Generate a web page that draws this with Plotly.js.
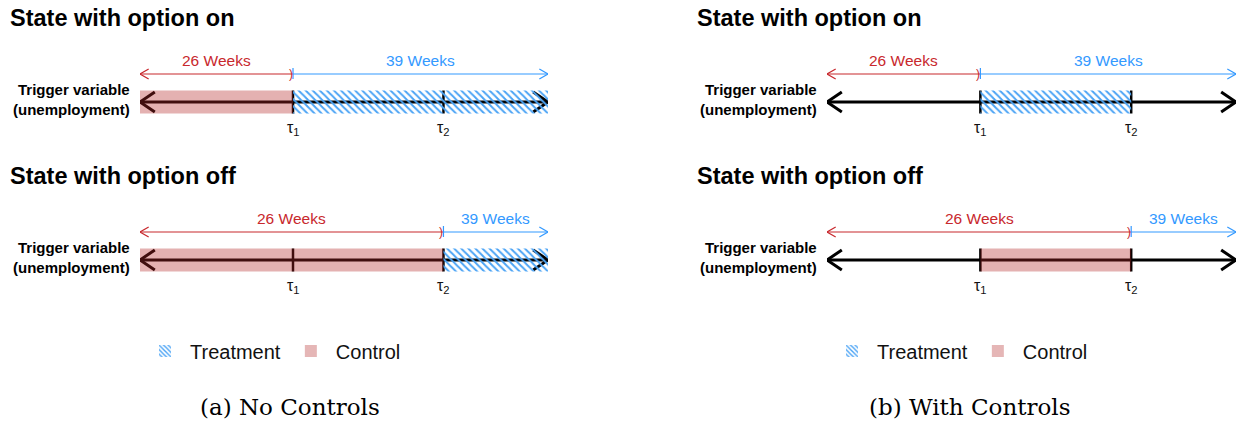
<!DOCTYPE html>
<html><head><meta charset="utf-8">
<script src="https://cdn.plot.ly/plotly-3.0.1.min.js"></script>
<style>html,body{margin:0;padding:0;background:#fff}#chart{width:1244px;height:423px}</style>
</head><body><div id="chart"></div>
<script>
// ---------------- data ----------------
const X_START = 0, X_END = 8;                 // extent of the trigger-variable axis
const TAU = [3, 5.95];                        // thresholds tau1, tau2
const TAU_LABELS = ['τ<sub>1</sub>', 'τ<sub>2</sub>'];
const ROW_TITLES = ['State with option on', 'State with option off'];
const ROW_BREAK = [TAU[0], TAU[1]];           // 26 -> 39 weeks switch point per row
const WEEK_LABELS = ['26 Weeks', '39 Weeks'];
const PANEL_CAPTIONS = ['(a) No Controls', '(b) With Controls'];
const LEGEND_NAMES = ['Treatment', 'Control'];
const AXIS_LABEL = 'Trigger variable<br>(unemployment)';
// bands [from, to] for rows [option on, option off]; null = no band
const TREAT_NO_CTRL = [[TAU[0], X_END], [TAU[1], X_END]];
const CTRL_NO_CTRL = [[X_START, TAU[0]], [X_START, TAU[1]]];
const TREAT_WITH_CTRL = [[TAU[0], TAU[1]], null];
const CTRL_WITH_CTRL = [null, [TAU[0], TAU[1]]];

// ---------------- styles / geometry ----------------
const W = 1244, H = 423;
const FONT = 'Liberation Sans, Arial, Helvetica, sans-serif';
const RED = '#c8282d', BLUE = '#3399ff';
const PINK = 'rgba(180,40,40,0.36)';
const HATCH = '#4aa3f5';
const COL_PX = [[140, 548], [827, 1236]];
const ROW_TOP_PX = [45, 203];      // top pixel of each row's plot area
const ROW_H = 95, LINE_FROM_TOP = 57;
const BAND_H = 11.5, ARROW_Y = 28, LABEL_Y = 42, TAULAB_Y = -26, TICK_H = 11.5;
const CHEV_DX = 0.29, CHEV_DY = 10;      // big chevrons (main axis)
const THIN_DX = 0.17, THIN_DY = 5;       // small chevrons (duration arrows)
const CAPTION_X = [290, 969], LEGEND_X = [140, 827];

const panelTreat = [TREAT_NO_CTRL, TREAT_WITH_CTRL];
const panelCtrl = [CTRL_NO_CTRL, CTRL_WITH_CTRL];

const traces = [], annotations = [], layout = {
  width: W, height: H, margin: {l: 0, r: 0, t: 0, b: 0},
  paper_bgcolor: '#fff', plot_bgcolor: 'rgba(0,0,0,0)',
  font: {family: FONT, color: '#111'}, showlegend: true
};

function axName(n, p) { return n === 1 ? p : p + n; }

const bandLayer = [], lineLayer = [], markLayer = [];

for (let c = 0; c < 2; c++) {
  for (let r = 0; r < 2; r++) {
    const n = c * 2 + r + 1;
    const xa = axName(n, 'x'), ya = axName(n, 'y');
    const xk = axName(n, 'xaxis'), yk = axName(n, 'yaxis');
    const top = ROW_TOP_PX[r], bot = top + ROW_H;
    layout[xk] = {domain: [COL_PX[c][0] / W, COL_PX[c][1] / W], range: [X_START, X_END],
      visible: false, fixedrange: true, anchor: ya};
    layout[yk] = {domain: [(H - bot) / H, (H - top) / H], range: [-(ROW_H - LINE_FROM_TOP), LINE_FROM_TOP],
      visible: false, fixedrange: true, anchor: xa};

    // main black axis with open chevrons at both ends
    lineLayer.push({type: 'scatter', mode: 'lines', xaxis: xa, yaxis: ya, showlegend: false, hoverinfo: 'skip',
      x: [X_START, X_END, null, X_START + CHEV_DX, X_START, X_START + CHEV_DX, null, X_END - CHEV_DX, X_END, X_END - CHEV_DX],
      y: [0, 0, null, CHEV_DY, 0, -CHEV_DY, null, CHEV_DY, 0, -CHEV_DY],
      line: {color: '#000', width: 3}});
    // threshold ticks
    TAU.forEach(t => lineLayer.push({type: 'scatter', mode: 'lines', xaxis: xa, yaxis: ya, showlegend: false,
      hoverinfo: 'skip', x: [t, t], y: [-TICK_H, TICK_H], line: {color: '#000', width: 2.5}}));

    // bands
    const tb = panelTreat[c][r], cb = panelCtrl[c][r];
    if (cb) bandLayer.push({type: 'scatter', mode: 'lines', fill: 'toself', xaxis: xa, yaxis: ya, showlegend: false,
      hoverinfo: 'skip', x: [cb[0], cb[1], cb[1], cb[0], cb[0]], y: [-BAND_H, -BAND_H, BAND_H, BAND_H, -BAND_H],
      line: {width: 0}, fillcolor: PINK});
    if (tb) bandLayer.push({type: 'scatter', mode: 'lines', fill: 'toself', xaxis: xa, yaxis: ya, showlegend: false,
      hoverinfo: 'skip', x: [tb[0], tb[1], tb[1], tb[0], tb[0]], y: [-BAND_H, -BAND_H, BAND_H, BAND_H, -BAND_H],
      line: {width: 0}, fillcolor: 'rgba(0,0,0,0)',
      fillpattern: {shape: '\\', fgcolor: HATCH, bgcolor: 'rgba(0,0,0,0)', size: 5, solidity: 0.4, fillmode: 'replace'}});

    // duration arrows (26 weeks to the left, 39 weeks to the right of the break)
    const b = ROW_BREAK[r];
    markLayer.push({type: 'scatter', mode: 'lines', xaxis: xa, yaxis: ya, showlegend: false, hoverinfo: 'skip',
      x: [b, X_START, null, X_START + THIN_DX, X_START, X_START + THIN_DX],
      y: [ARROW_Y, ARROW_Y, null, ARROW_Y + THIN_DY, ARROW_Y, ARROW_Y - THIN_DY],
      line: {color: RED, width: 1.2}});
    markLayer.push({type: 'scatter', mode: 'lines', xaxis: xa, yaxis: ya, showlegend: false, hoverinfo: 'skip',
      x: [b, X_END, null, X_END - THIN_DX, X_END, X_END - THIN_DX, null, b, b],
      y: [ARROW_Y, ARROW_Y, null, ARROW_Y + THIN_DY, ARROW_Y, ARROW_Y - THIN_DY, null, ARROW_Y - 5, ARROW_Y + 6],
      line: {color: BLUE, width: 1.2}});
    annotations.push({xref: xa, yref: ya, x: b, y: ARROW_Y + 0.5, text: ')', showarrow: false, xanchor: 'right',
      xshift: 1.5, font: {size: 12, color: RED, family: FONT}});
    annotations.push({xref: xa, yref: ya, x: (X_START + b) / 2, y: LABEL_Y, text: WEEK_LABELS[0], showarrow: false,
      font: {size: 15.5, color: RED, family: FONT}});
    annotations.push({xref: xa, yref: ya, x: (b + X_END) / 2, y: LABEL_Y, text: WEEK_LABELS[1], showarrow: false,
      font: {size: 15.5, color: BLUE, family: FONT}});
    TAU.forEach((t, i) => annotations.push({xref: xa, yref: ya, x: t, y: TAULAB_Y, text: TAU_LABELS[i],
      showarrow: false, font: {size: 16, color: '#111', family: FONT}}));

    // row title & axis label
    annotations.push({xref: 'paper', yref: 'paper', x: (COL_PX[c][0] - 132) / W, y: (H - (top - 27)) / H,
      xanchor: 'left', yanchor: 'middle', text: '<b>' + ROW_TITLES[r] + '</b>', showarrow: false,
      font: {size: 23.5, color: '#000', family: FONT}});
    annotations.push({xref: 'paper', yref: 'paper', x: (COL_PX[c][0] - 8) / W, y: (H - (top + LINE_FROM_TOP - 3)) / H,
      xanchor: 'right', yanchor: 'middle', align: 'right', text: '<b>' + AXIS_LABEL + '</b>', showarrow: false,
      font: {size: 15, color: '#000', family: FONT}});
  }
  // caption
  annotations.push({xref: 'paper', yref: 'paper', x: CAPTION_X[c] / W, y: (H - 407) / H, xanchor: 'center',
    yanchor: 'middle', text: PANEL_CAPTIONS[c], showarrow: false,
    font: {size: 23, color: '#000', family: 'DejaVu Serif, Liberation Serif, serif'}});
}

// legend entries (one legend per panel)
['legend', 'legend2'].forEach((lg, c) => {
  const xa = axName(c * 2 + 1, 'x'), ya = axName(c * 2 + 1, 'y');
  traces.push({type: 'bar', x: [null], y: [null], xaxis: xa, yaxis: ya, name: LEGEND_NAMES[0], legend: lg,
    hoverinfo: 'skip', marker: {color: '#fff', line: {width: 0},
      pattern: {shape: '\\', fgcolor: HATCH, bgcolor: '#fff', size: 4, solidity: 0.45}}});
  traces.push({type: 'bar', x: [null], y: [null], xaxis: xa, yaxis: ya, name: LEGEND_NAMES[1], legend: lg,
    hoverinfo: 'skip', marker: {color: 'rgb(229,182,182)', line: {width: 0}}});
  layout[lg] = {orientation: 'h', x: LEGEND_X[c] / W, y: (H - 351) / H, xanchor: 'left', yanchor: 'middle',
    itemwidth: 40, font: {size: 20, color: '#111', family: FONT}, bgcolor: 'rgba(0,0,0,0)',
    itemclick: false, itemdoubleclick: false};
});

layout.annotations = annotations;
Plotly.newPlot('chart', lineLayer.concat(bandLayer, markLayer, traces), layout,
  {displayModeBar: false, staticPlot: true});
</script></body></html>
